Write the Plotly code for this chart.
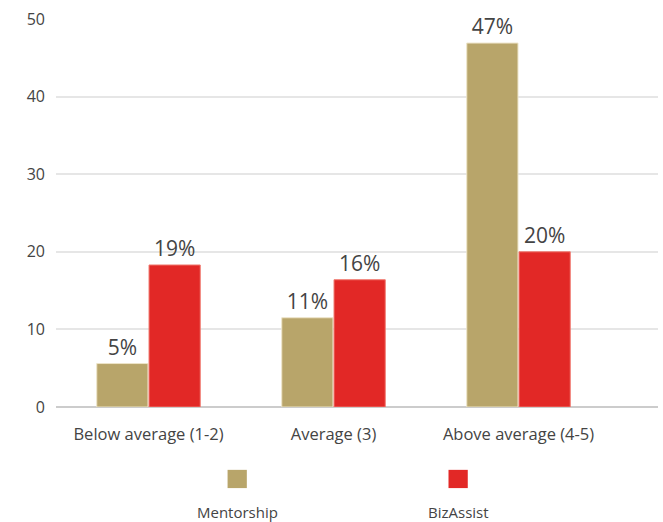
import plotly.graph_objects as go

categories = ["Below average (1-2)", "Average (3)", "Above average (4-5)"]
mentorship = [5.6, 11.5, 46.9]
bizassist = [18.3, 16.4, 20.0]
mentorship_labels = ["5%", "11%", "47%"]
bizassist_labels = ["19%", "16%", "20%"]
series_names = ["Mentorship", "BizAssist"]
colors = ["#B8A56A", "#E22826"]

FONT = "'Open Sans', Lato, sans-serif"
TXT = "#444444"

fig = go.Figure()
for name, vals, labels, col, line in [
    (series_names[0], mentorship, mentorship_labels, colors[0], "#EDE4C8"),
    (series_names[1], bizassist, bizassist_labels, colors[1], "#F07A70"),
]:
    fig.add_trace(go.Bar(
        x=categories, y=vals, name=name, text=labels,
        textposition="outside", cliponaxis=False,
        textfont=dict(size=21, color=TXT, family=FONT),
        marker=dict(color=col, line=dict(color=line, width=1)),
        showlegend=False,
    ))

fig.update_layout(
    width=663, height=522,
    margin=dict(l=56, r=5, t=19, b=115),
    plot_bgcolor="white", paper_bgcolor="white",
    barmode="group", bargap=0.435, bargroupgap=0.02,
    font=dict(family=FONT, color=TXT, size=15),
    xaxis=dict(range=[-0.5, 2.754], showgrid=False, showline=False,
               ticks="", ticklabelstandoff=15, tickfont=dict(size=16.5, color=TXT)),
    yaxis=dict(range=[0, 50], dtick=10, showgrid=True, gridcolor="#E6E6E6",
               gridwidth=1.5, zeroline=True, zerolinecolor="#CCCCCC",
               zerolinewidth=1.5, ticks="", ticklabelstandoff=10,
               tickfont=dict(size=16, color=TXT)),
)

# manual legend: swatch above text
legend_x = [0.301, 0.668]
for name, col, lx in zip(series_names, colors, legend_x):
    fig.add_shape(type="rect", xref="paper", yref="paper",
                  x0=lx - 0.016, x1=lx + 0.016, y0=-0.209, y1=-0.162,
                  fillcolor=col, line=dict(width=0))
    fig.add_annotation(text=name, xref="paper", yref="paper", x=lx, y=-0.271,
                       showarrow=False, font=dict(size=15, color=TXT, family=FONT),
                       xanchor="center", yanchor="middle")

fig.write_html("out.html")
